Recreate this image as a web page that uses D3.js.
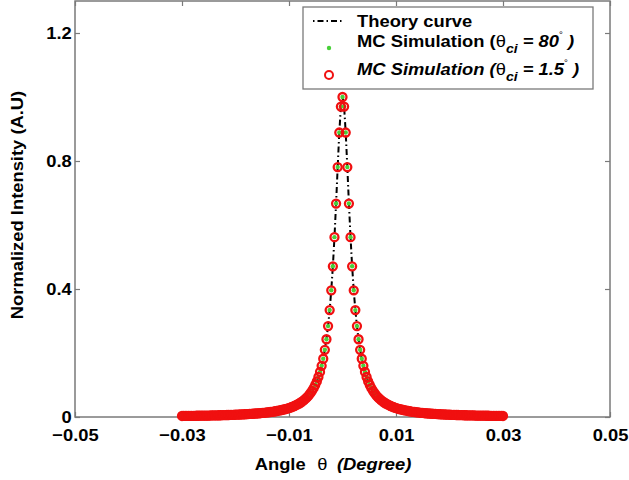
<!DOCTYPE html>
<html>
<head>
<meta charset="utf-8">
<script src="https://cdn.jsdelivr.net/npm/d3@7"></script>
<style>
  html, body { margin: 0; padding: 0; background: #fff; }
  svg { display: block; }
</style>
</head>
<body>
<svg id="chart" width="629" height="480"></svg>
<script>
// Sampled scattering angles (degrees)
const angles = [
  -0.0300,-0.0297,-0.0294,-0.0291,-0.0288,-0.0285,-0.0282,-0.0279,-0.0276,-0.0273,
  -0.0270,-0.0267,-0.0264,-0.0261,-0.0258,-0.0255,-0.0252,-0.0249,-0.0246,-0.0243,
  -0.0240,-0.0237,-0.0234,-0.0231,-0.0228,-0.0225,-0.0222,-0.0219,-0.0216,-0.0213,
  -0.0210,-0.0207,-0.0204,-0.0201,-0.0198,-0.0195,-0.0192,-0.0189,-0.0186,-0.0183,
  -0.0180,-0.0177,-0.0174,-0.0171,-0.0168,-0.0165,-0.0162,-0.0159,-0.0156,-0.0153,
  -0.0150,-0.0147,-0.0144,-0.0141,-0.0138,-0.0135,-0.0132,-0.0129,-0.0126,-0.0123,
  -0.0120,-0.0117,-0.0114,-0.0111,-0.0108,-0.0105,-0.0102,-0.0099,-0.0096,-0.0093,
  -0.0090,-0.0087,-0.0084,-0.0081,-0.0078,-0.0075,-0.0072,-0.0069,-0.0066,-0.0063,
  -0.0060,-0.0057,-0.0054,-0.0051,-0.0048,-0.0045,-0.0042,-0.0039,-0.0036,-0.0033,
  -0.0030,-0.0027,-0.0024,-0.0021,-0.0018,-0.0015,-0.0012,-0.0009,-0.0006,-0.0003,
  0,
  0.0003,0.0006,0.0009,0.0012,0.0015,0.0018,0.0021,0.0024,0.0027,0.0030,
  0.0033,0.0036,0.0039,0.0042,0.0045,0.0048,0.0051,0.0054,0.0057,0.0060,
  0.0063,0.0066,0.0069,0.0072,0.0075,0.0078,0.0081,0.0084,0.0087,0.0090,
  0.0093,0.0096,0.0099,0.0102,0.0105,0.0108,0.0111,0.0114,0.0117,0.0120,
  0.0123,0.0126,0.0129,0.0132,0.0135,0.0138,0.0141,0.0144,0.0147,0.0150,
  0.0153,0.0156,0.0159,0.0162,0.0165,0.0168,0.0171,0.0174,0.0177,0.0180,
  0.0183,0.0186,0.0189,0.0192,0.0195,0.0198,0.0201,0.0204,0.0207,0.0210,
  0.0213,0.0216,0.0219,0.0222,0.0225,0.0228,0.0231,0.0234,0.0237,0.0240,
  0.0243,0.0246,0.0249,0.0252,0.0255,0.0258,0.0261,0.0264,0.0267,0.0270,
  0.0273,0.0276,0.0279,0.0282,0.0285,0.0288,0.0291,0.0294,0.0297,0.0300
];

// Normalized intensity at each angle (theory and both simulations coincide)
const intensity = [
  0.0032,0.0033,0.0033,0.0034,0.0035,0.0035,0.0036,0.0037,0.0038,0.0039,
  0.0039,0.0040,0.0041,0.0042,0.0043,0.0044,0.0045,0.0046,0.0048,0.0049,
  0.0050,0.0051,0.0053,0.0054,0.0055,0.0057,0.0058,0.0060,0.0062,0.0063,
  0.0065,0.0067,0.0069,0.0071,0.0073,0.0075,0.0078,0.0080,0.0083,0.0086,
  0.0088,0.0091,0.0095,0.0098,0.0101,0.0105,0.0109,0.0113,0.0117,0.0122,
  0.0127,0.0132,0.0137,0.0143,0.0149,0.0156,0.0163,0.0171,0.0179,0.0187,
  0.0197,0.0207,0.0218,0.0229,0.0242,0.0255,0.0270,0.0286,0.0304,0.0323,
  0.0344,0.0368,0.0393,0.0422,0.0453,0.0489,0.0528,0.0572,0.0622,0.0679,
  0.0743,0.0817,0.0902,0.100,0.111,0.125,0.141,0.160,0.182,0.210,
  0.243,0.284,0.334,0.396,0.471,0.562,0.667,0.781,0.889,0.970,
  1.000,
  0.970,0.889,0.781,0.667,0.562,0.471,0.396,0.334,0.284,0.243,
  0.210,0.182,0.160,0.141,0.125,0.111,0.100,0.0902,0.0817,0.0743,
  0.0679,0.0622,0.0572,0.0528,0.0489,0.0453,0.0422,0.0393,0.0368,0.0344,
  0.0323,0.0304,0.0286,0.0270,0.0255,0.0242,0.0229,0.0218,0.0207,0.0197,
  0.0187,0.0179,0.0171,0.0163,0.0156,0.0149,0.0143,0.0137,0.0132,0.0127,
  0.0122,0.0117,0.0113,0.0109,0.0105,0.0101,0.0098,0.0095,0.0091,0.0088,
  0.0086,0.0083,0.0080,0.0078,0.0075,0.0073,0.0071,0.0069,0.0067,0.0065,
  0.0063,0.0062,0.0060,0.0058,0.0057,0.0055,0.0054,0.0053,0.0051,0.0050,
  0.0049,0.0048,0.0046,0.0045,0.0044,0.0043,0.0042,0.0041,0.0040,0.0039,
  0.0039,0.0038,0.0037,0.0036,0.0035,0.0035,0.0034,0.0033,0.0033,0.0032
];

const xTicks = [-0.05, -0.03, -0.01, 0.01, 0.03, 0.05];
const xTickLabels = ["\u22120.05", "\u22120.03", "\u22120.01", "0.01", "0.03", "0.05"];
const yTicks = [0, 0.4, 0.8, 1.2];
const yTickLabels = ["0", "0.4", "0.8", "1.2"];

const FONT = "'Liberation Sans', Arial, Helvetica, sans-serif";
const WIDEN = "scale(1.08,1)";   // slightly wide bold face
const AXIS_GRAY = "#7a7a7a";
const RED = "#f01010";
const GREEN = "#48d038";

const svg = d3.select("#chart")
  .attr("font-family", FONT)
  .attr("font-weight", "bold")
  .attr("font-size", 17);

svg.append("rect").attr("width", 629).attr("height", 480).attr("fill", "#fff");

const plotLeft = 75, plotRight = 610, plotTop = 1, plotBottom = 417;
const x = d3.scaleLinear().domain([-0.05, 0.05]).range([plotLeft, plotRight]);
const y = d3.scaleLinear().domain([0, 1.3]).range([plotBottom, plotTop]);

// Plot frame
svg.append("rect")
  .attr("x", plotLeft).attr("y", plotTop)
  .attr("width", plotRight - plotLeft).attr("height", plotBottom - plotTop)
  .attr("fill", "none").attr("stroke", AXIS_GRAY).attr("stroke-width", 1.5);

function styleAxis(g) {
  g.select(".domain").remove();
  g.selectAll(".tick line").attr("stroke", AXIS_GRAY).attr("stroke-width", 1.2);
  g.selectAll(".tick text")
    .attr("fill", "#000")
    .attr("font-family", FONT)
    .attr("font-weight", "bold")
    .attr("font-size", 17)
    .attr("transform", WIDEN);
}

svg.append("g")
  .attr("transform", `translate(0,${plotBottom})`)
  .call(d3.axisBottom(x).tickValues(xTicks).tickSize(-5).tickPadding(12)
    .tickFormat((d, i) => xTickLabels[i]))
  .call(styleAxis);

svg.append("g")
  .attr("transform", `translate(0,${plotTop})`)
  .call(d3.axisTop(x).tickValues(xTicks).tickSize(-5).tickFormat(""))
  .call(styleAxis);

svg.append("g")
  .attr("transform", `translate(${plotLeft},0)`)
  .call(d3.axisLeft(y).tickValues(yTicks).tickSize(-5).tickPadding(3)
    .tickFormat((d, i) => yTickLabels[i]))
  .call(styleAxis);

svg.append("g")
  .attr("transform", `translate(${plotRight},0)`)
  .call(d3.axisRight(y).tickValues(yTicks).tickSize(-5).tickFormat(""))
  .call(styleAxis);

// Axis titles
const xTitle = svg.append("text")
  .attr("transform", `translate(333,470) ${WIDEN}`)
  .attr("text-anchor", "middle");
xTitle.append("tspan").text("Angle ");
xTitle.append("tspan").attr("font-weight", "normal").attr("dx", 6).text("\u03b8");
xTitle.append("tspan").attr("font-style", "italic").attr("dx", 4).text(" (Degree)");

svg.append("text")
  .attr("transform", `translate(17,205) rotate(-90) ${WIDEN}`)
  .attr("text-anchor", "middle")
  .attr("dy", "0.35em")
  .text("Normalized Intensity (A.U)");

// Series
const pts = angles.map((a, i) => ({ a, v: intensity[i] }));

const plot = svg.append("g");

plot.append("path")
  .datum(pts)
  .attr("fill", "none")
  .attr("stroke", "#000")
  .attr("stroke-width", 2)
  .attr("stroke-dasharray", "6,3,1.5,3")
  .attr("d", d3.line().x(d => x(d.a)).y(d => y(d.v)));

plot.append("g").selectAll("circle")
  .data(pts).join("circle")
  .attr("cx", d => x(d.a)).attr("cy", d => y(d.v))
  .attr("r", 2.2).attr("fill", GREEN);

plot.append("g").selectAll("circle")
  .data(pts).join("circle")
  .attr("cx", d => x(d.a)).attr("cy", d => y(d.v))
  .attr("r", 4).attr("fill", "none")
  .attr("stroke", RED).attr("stroke-width", 2.3);

// Legend
const legend = svg.append("g");
legend.append("rect")
  .attr("x", 303).attr("y", 7).attr("width", 290).attr("height", 82)
  .attr("fill", "#fff").attr("stroke", AXIS_GRAY).attr("stroke-width", 1.3);

legend.append("line")
  .attr("x1", 313).attr("x2", 343).attr("y1", 21).attr("y2", 21)
  .attr("stroke", "#000").attr("stroke-width", 2)
  .attr("stroke-dasharray", "1.5,3,6,3");
legend.append("text")
  .attr("transform", `translate(357,27) ${WIDEN}`)
  .text("Theory curve");

legend.append("circle")
  .attr("cx", 329).attr("cy", 48).attr("r", 2.2).attr("fill", GREEN);
const t2 = legend.append("text").attr("transform", `translate(357,47) ${WIDEN}`);
t2.append("tspan").text("MC Simulation (");
t2.append("tspan").attr("font-weight", "normal").text("\u03b8");
t2.append("tspan").attr("font-style", "italic").attr("font-size", 13).attr("dy", 6).text("ci");
t2.append("tspan").attr("font-style", "italic").attr("dy", -6).text(" = 80");
t2.append("tspan").attr("font-weight", "normal").attr("font-size", 9).attr("dy", -9).text("\u00b0");
t2.append("tspan").attr("font-style", "italic").attr("dy", 9).text(" )");

legend.append("circle")
  .attr("cx", 329).attr("cy", 75).attr("r", 4)
  .attr("fill", "none").attr("stroke", RED).attr("stroke-width", 2);
const t3 = legend.append("text").attr("transform", `translate(357,75) ${WIDEN}`)
  .attr("font-style", "italic");
t3.append("tspan").text("MC Simulation (");
t3.append("tspan").attr("font-weight", "normal").attr("font-style", "normal").text("\u03b8");
t3.append("tspan").attr("font-size", 13).attr("dy", 6).text("ci");
t3.append("tspan").attr("dy", -6).text(" = 1.5");
t3.append("tspan").attr("font-weight", "normal").attr("font-style", "normal")
  .attr("font-size", 9).attr("dy", -9).text("\u00b0");
t3.append("tspan").attr("dy", 9).text(" )");
</script>
</body>
</html>
